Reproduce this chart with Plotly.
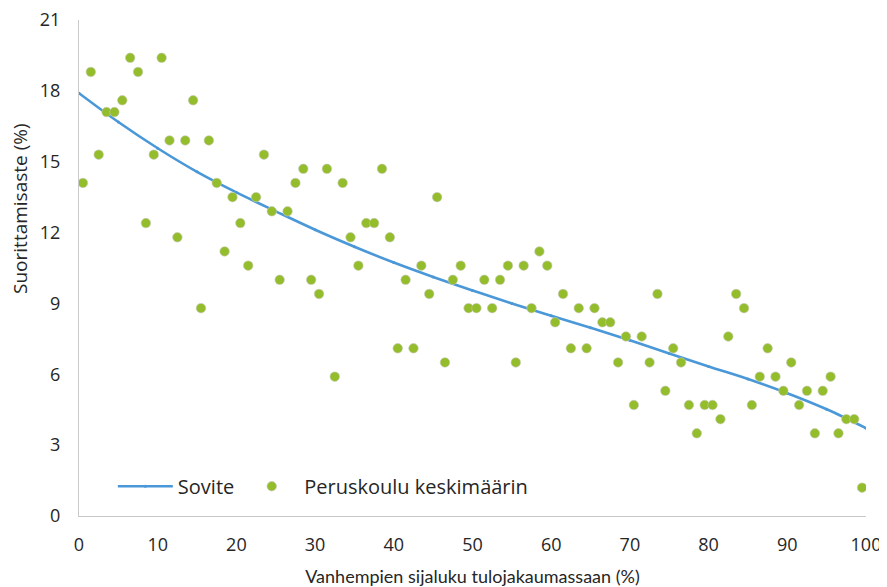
import plotly.graph_objects as go

# Scatter data: parental income percentile (midpoints) and completion rate (%)
pct = [i + 0.5 for i in range(100)]
rate = [14.1, 18.8, 15.3, 17.1, 17.1, 17.6, 19.4, 18.8, 12.4, 15.3,
        19.4, 15.9, 11.8, 15.9, 17.6, 8.8, 15.9, 14.1, 11.2, 13.5,
        12.4, 10.6, 13.5, 15.3, 12.9, 10.0, 12.9, 14.1, 14.7, 10.0,
        9.4, 14.7, 5.9, 14.1, 11.8, 10.6, 12.4, 12.4, 14.7, 11.8,
        7.1, 10.0, 7.1, 10.6, 9.4, 13.5, 6.5, 10.0, 10.6, 8.8,
        8.8, 10.0, 8.8, 10.0, 10.6, 6.5, 10.6, 8.8, 11.2, 10.6,
        8.2, 9.4, 7.1, 8.8, 7.1, 8.8, 8.2, 8.2, 6.5, 7.6,
        4.7, 7.6, 6.5, 9.4, 5.3, 7.1, 6.5, 4.7, 3.5, 4.7,
        4.7, 4.1, 7.6, 9.4, 8.8, 4.7, 5.9, 7.1, 5.9, 5.3,
        6.5, 4.7, 5.3, 3.5, 5.3, 5.9, 3.5, 4.1, 4.1, 1.2]

# Fitted curve ("Sovite")
fit_x = [0, 5, 10, 15, 20, 25, 30, 35, 40, 45, 50,
         55, 60, 65, 70, 75, 80, 85, 90, 95, 100]
fit_y = [17.9, 16.68, 15.57, 14.57, 13.7, 12.9, 12.12, 11.4, 10.73, 10.12, 9.55,
         9.0, 8.48, 7.97, 7.44, 6.88, 6.33, 5.8, 5.2, 4.52, 3.72]

x_ticks = list(range(0, 101, 10))
y_ticks = list(range(0, 22, 3))

FONT = "Open Sans"
TXT = "#262626"

fig = go.Figure()
fig.add_trace(go.Scatter(
    x=fit_x, y=fit_y, mode="lines+markers", name="Sovite",
    line=dict(color="#4A98D8", width=2.6, shape="spline", smoothing=1.0),
    marker=dict(size=3, color="#4A98D8"),
))
fig.add_trace(go.Scatter(
    x=pct, y=rate, mode="markers", name="Peruskoulu keskimäärin",
    marker=dict(size=9.5, color="#93BD2A", line=dict(color="#c8c8b8", width=0.6)),
))

fig.update_layout(
    width=879, height=579,
    margin=dict(l=71, r=21, t=12, b=71, autoexpand=False),
    paper_bgcolor="white", plot_bgcolor="white",
    font=dict(family=FONT, size=18, color=TXT),
    showlegend=True,
    legend=dict(orientation="h", x=0.043, y=0.06, xanchor="left", yanchor="middle",
                bgcolor="rgba(0,0,0,0)", font=dict(size=20, color=TXT),
                itemwidth=55, tracegroupgap=0),
    xaxis=dict(range=[0, 100], tickvals=x_ticks, showgrid=False, zeroline=False,
               showline=True, linecolor="#c9c9c9", linewidth=1.3, ticks="",
               ticklabelstandoff=12, ticklabeloverflow="allow",
               tickfont=dict(size=18, color=TXT),
               title=dict(text="Vanhempien sijaluku tulojakaumassaan (%)",
                          font=dict(family="Lato", size=18, color=TXT), standoff=15)),
    yaxis=dict(range=[0, 21], tickvals=y_ticks, showgrid=False, zeroline=False,
               showline=True, linecolor="#c9c9c9", linewidth=1.3, ticks="",
               ticklabelstandoff=14, ticklabeloverflow="allow",
               tickfont=dict(size=18, color=TXT)),
    annotations=[dict(text="Suorittamisaste (%)", textangle=-90,
                      xref="paper", yref="paper", x=-0.075, y=0.621,
                      xanchor="center", yanchor="middle", showarrow=False,
                      font=dict(size=19, color=TXT))],
)

fig.write_html("out.html")
